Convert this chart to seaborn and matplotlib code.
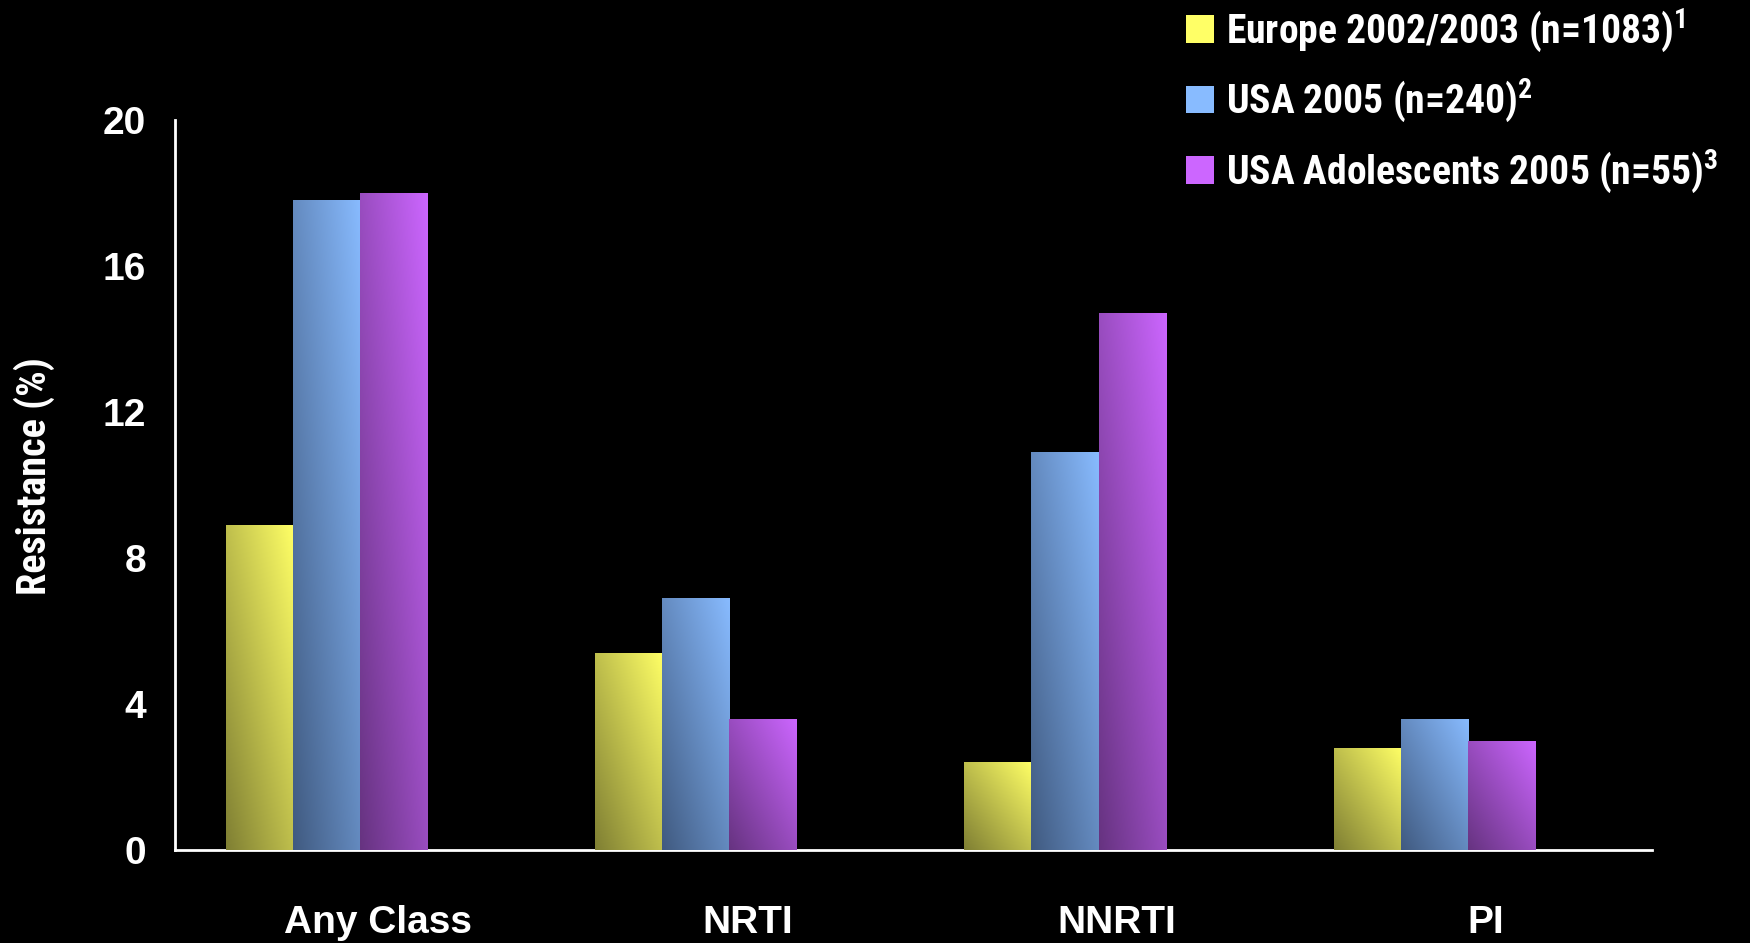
import numpy as np
import pandas as pd
import matplotlib
matplotlib.use("Agg")
import matplotlib.pyplot as plt
import matplotlib.transforms as mtransforms
from matplotlib.patches import Rectangle
from matplotlib.colors import to_rgb
import seaborn as sns

# ---- data -------------------------------------------------------------
categories = ["Any Class", "NRTI", "NNRTI", "PI"]
series = ["Europe 2002/2003 (n=1083)$^{\\mathrm{1}}$",
          "USA 2005 (n=240)$^{\\mathrm{2}}$",
          "USA Adolescents 2005 (n=55)$^{\\mathrm{3}}$"]
europe = [8.9, 5.4, 2.4, 2.8]
usa = [17.8, 6.9, 10.9, 3.6]
adolescents = [18.0, 3.6, 14.7, 3.0]
yticks = [0, 4, 8, 12, 16, 20]
ylabel = "Resistance (%)"

# bright (top-right) and shaded (bottom-left) tones of each series
light = ["#FFFF66", "#88BBFF", "#CC66FF"]
dark = ["#7F7F33", "#405A80", "#663380"]

df = pd.DataFrame({
    "Class": categories * 3,
    "Series": np.repeat(series, len(categories)),
    "Resistance": europe + usa + adolescents,
})

sns.set_style("dark")
sans = ["Liberation Sans", "DejaVu Sans"]
narrow = ["Roboto Condensed", "DejaVu Sans"]
plt.rcParams["font.family"] = sans
plt.rcParams["mathtext.fontset"] = "custom"
plt.rcParams["mathtext.rm"] = "Roboto Condensed:bold"

fig = plt.figure(figsize=(17.5, 9.43), dpi=100, facecolor="black")
ax = fig.add_axes([0.1001, 0.0986, 0.844, 0.7741])
ax.set_facecolor("black")

sns.barplot(data=df, x="Class", y="Resistance", hue="Series",
            order=categories, hue_order=series, palette=light,
            saturation=1, width=0.546, gap=0, legend=False, ax=ax)


def gradient(k, n=160):
    u = np.linspace(0, 1, n)
    U, V = np.meshgrid(u, u)
    t = ((U + V) / 2)[..., None]
    lo, hi = np.array(to_rgb(dark[k])), np.array(to_rgb(light[k]))
    return lo + t * (hi - lo)


# diagonal shading on each bar
for k, cont in enumerate(ax.containers):
    img = gradient(k)
    for bar in cont:
        x0, y0 = bar.get_xy()
        w, h = bar.get_width(), bar.get_height()
        im = ax.imshow(img, extent=[x0, x0 + w, y0, y0 + h], origin="lower",
                       aspect="auto", interpolation="bilinear",
                       zorder=bar.get_zorder() + 0.1)
        im.set_clip_path(bar)
        bar.set_linewidth(0)

ax.set_xlim(-0.41, 3.59)
ax.set_ylim(0, 20)

# group separators on the x axis
ax.set_xticks(np.arange(-1, 4) + 0.59)
ax.set_xticklabels([])
ax.tick_params(axis="x", length=8, width=2, color="white", direction="out")
ax.set_xlabel("")

trans = mtransforms.blended_transform_factory(ax.transData, ax.transAxes)
for i, cat in enumerate(categories):
    ax.text(i + 0.14, -0.1, cat, transform=trans, ha="center", va="center",
            fontsize=28, fontweight="bold", color="white", family=sans)

ax.set_yticks(yticks)
ax.set_yticklabels([str(v) for v in yticks], fontsize=28, fontweight="bold",
                   color="white", family=sans)
ax.tick_params(axis="y", length=0, pad=21)

ax.set_ylabel(ylabel, fontsize=29, fontweight="bold", color="white",
              family=narrow)
ax.yaxis.label.set_verticalalignment("center")
ax.yaxis.set_label_coords(-0.0955, 0.512)

for side in ("top", "right"):
    ax.spines[side].set_visible(False)
for side in ("left", "bottom"):
    ax.spines[side].set_visible(True)
    ax.spines[side].set_color("white")
    ax.spines[side].set_linewidth(2)
    ax.spines[side].set_zorder(1)
ax.grid(False)

handles = [Rectangle((0, 0), 1, 1, facecolor=c, linewidth=0) for c in light]
leg = fig.legend(handles, series, loc="upper left",
                 bbox_to_anchor=(1186 / 1750, 1 - 6 / 943),
                 frameon=False, borderpad=0, borderaxespad=0,
                 handlelength=0.7, handleheight=0.7, handletextpad=0.3,
                 labelspacing=0.575, labelcolor="white",
                 prop=dict(family=narrow, weight="bold", size=28.5))

fig.canvas.draw()
W, H = fig.bbox.width, fig.bbox.height
for k, hnd in enumerate(leg.legend_handles):
    bb = hnd.get_window_extent()
    hax = fig.add_axes([bb.x0 / W, bb.y0 / H, bb.width / W, bb.height / H])
    hax.imshow(gradient(k), origin="lower", aspect="auto",
               interpolation="bilinear")
    hax.axis("off")

fig.savefig("out.png", dpi=100, facecolor="black")
